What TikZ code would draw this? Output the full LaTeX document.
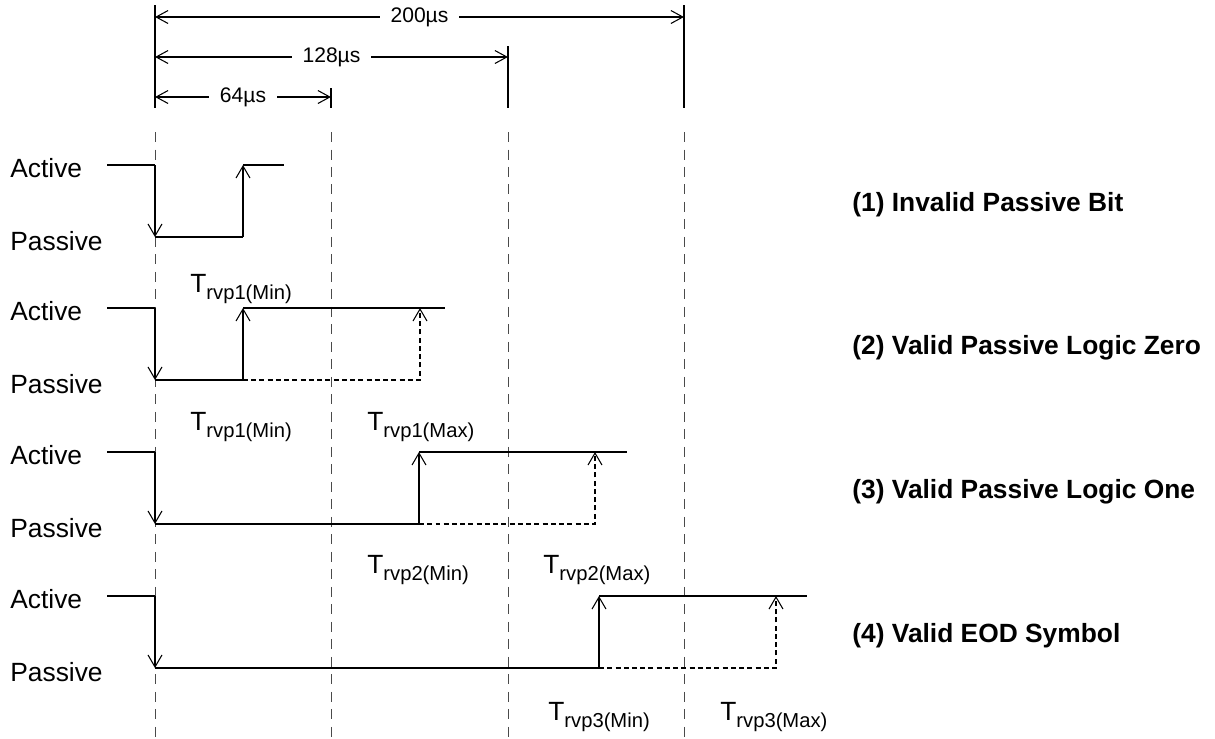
\documentclass[tikz,border=0pt]{standalone}
\usepackage{fontspec}
\setmainfont{Liberation Sans}
\usetikzlibrary{arrows.meta,positioning}
\definecolor{SlotGrey}{HTML}{4A4A4A}
\newcommand{\trvp}[1]{T\raisebox{-4pt}{\fontsize{11.5}{13}\selectfont rvp#1}}

\begin{document}
\begin{tikzpicture}[x=0.02cm, y=-0.02cm,
  level/.style={anchor=west, inner sep=0pt, font=\fontsize{15}{17}\selectfont},
  casename/.style={anchor=west, inner sep=0pt, font=\fontsize{15}{17}\selectfont\bfseries},
  timing/.style={anchor=base west, inner sep=0pt, font=\fontsize{15}{17}\selectfont},
  dimtext/.style={fill=white, inner xsep=0.22cm, inner ysep=1pt, font=\fontsize{12}{14}\selectfont},
  wave/.style={line width=0.6pt},
  edge/.style={wave, -{Straight Barb[length=2.4mm,width=2.8mm]}},
  late/.style={edge, dash pattern=on 0.1cm off 0.065cm},
  dim/.style={wave, {Straight Barb[length=2.4mm,width=2.6mm]}-{Straight Barb[length=2.4mm,width=2.6mm]}},
  slot/.style={line width=0.55pt, draw=SlotGrey, dash pattern=on 0.2cm off 0.15cm}
]
  \fill[white] (0,0) rectangle (1215,738);
  \useasboundingbox (0,0) rectangle (1215,738);

  % time grid
  \foreach \x/\top [count=\k] in {155/5, 331/88, 508/46, 684/5} {
    \coordinate (top\k) at (\x,\top);
    \draw[wave] (top\k) -- (\x,108);
    \draw[slot] (\x,132) -- (\x,738);
  }

  % dimensions
  \draw[dim] (155,17) -- (684,17) node[dimtext, midway] (d200) {200µs};
  \draw[dim] (155,57) -- (508,57) node[dimtext, midway] (d128) {128µs};
  \draw[dim] (155,97) -- (331,97) node[dimtext, midway] (d64) {64µs};

  % waveforms
  \foreach \ya/\rise/\stop [count=\r] in {165/243/284, 308/243/445, 452/419/627, 596/599/807} {
    \pgfmathsetmacro\yp{\ya+72}
    \node[level] (act\r) at (10,\ya+3) {Active};
    \node[level] (pas\r) at (10,\yp+4) {Passive};
    \draw[wave] (107,\ya) -- (155,\ya);
    \draw[edge] (155,\ya) -- (155,\yp);
    \draw[wave] (155,\yp) -- (\rise,\yp);
    \draw[edge] (\rise,\yp) -- (\rise,\ya);
    \draw[wave] (\rise,\ya) -- (\stop,\ya);
  }
  \foreach \ya/\rise/\lim in {308/243/420, 452/419/595, 596/599/776}
    \draw[late] (\rise,\ya+72) -- (\lim,\ya+72) -- (\lim,\ya);

  % timing limits
  \node[timing] (tl1) at (190,292) {\trvp{1(Min)}};
  \node[timing] (tl2) at (190,430) {\trvp{1(Min)}};
  \node[timing] (tl3) at (367,430) {\trvp{1(Max)}};
  \node[timing] (tl4) at (367,573) {\trvp{2(Min)}};
  \node[timing] (tl5) at (543,573) {\trvp{2(Max)}};
  \node[timing] (tl6) at (548,720) {\trvp{3(Min)}};
  \node[timing] (tl7) at (720,720) {\trvp{3(Max)}};

  % cases
  \node[casename] (c1) at (852,205) {(1) Invalid Passive Bit};
  \node[casename] (c2) at (852,348) {(2) Valid Passive Logic Zero};
  \node[casename] (c3) at (852,492) {(3) Valid Passive Logic One};
  \node[casename] (c4) at (852,636) {(4) Valid EOD Symbol};
\end{tikzpicture}
\end{document}
